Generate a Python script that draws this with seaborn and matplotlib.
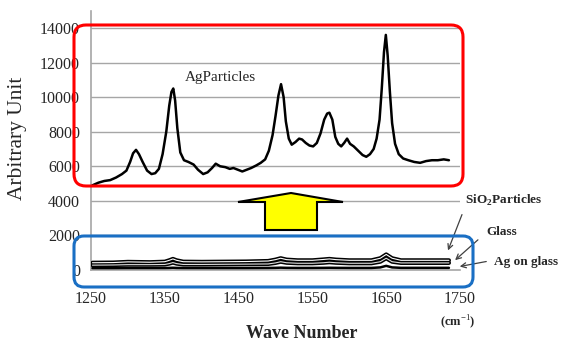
import matplotlib
matplotlib.use("Agg")
import matplotlib.pyplot as plt
from matplotlib.patches import FancyBboxPatch, Polygon
from matplotlib.transforms import IdentityTransform
import seaborn as sns
import pandas as pd

# ---------------- data ----------------
ag_wn = [1252, 1260, 1268, 1276, 1284, 1292, 1298, 1303, 1307, 1311, 1315, 1320, 1326, 1332,
         1337, 1342, 1347, 1352, 1356, 1359, 1361.5, 1364, 1367, 1371, 1376, 1382, 1389, 1395,
         1402, 1408, 1414, 1419, 1425, 1432, 1438, 1443, 1449, 1455, 1461, 1467, 1474, 1480,
         1486, 1491, 1496, 1500, 1504, 1507.5, 1511, 1514, 1518, 1522, 1527, 1532, 1536, 1541,
         1546, 1551, 1556, 1561, 1566, 1570, 1573, 1577, 1581, 1585, 1589, 1593, 1597, 1601,
         1606, 1612, 1618, 1623, 1628, 1633, 1637, 1641, 1644, 1647, 1649.5, 1652, 1655, 1658,
         1662, 1667, 1673, 1680, 1688, 1696, 1704, 1712, 1720, 1728, 1735]
ag_particles = [4900, 5050, 5150, 5200, 5350, 5550, 5750, 6250, 6750, 6950, 6700, 6250, 5750, 5550,
                5600, 5850, 6700, 8000, 9500, 10300, 10500, 9800, 8200, 6800, 6350, 6250, 6100, 5800,
                5550, 5650, 5900, 6150, 6000, 5950, 5850, 5900, 5800, 5700, 5800, 5900, 6050, 6200,
                6400, 6900, 7800, 8900, 10100, 10750, 10000, 8600, 7600, 7250, 7400, 7600, 7550, 7350,
                7200, 7150, 7350, 7900, 8700, 9050, 9100, 8700, 7700, 7300, 7150, 7350, 7600, 7300,
                7150, 6900, 6650, 6550, 6700, 7000, 7600, 8700, 10500, 12600, 13600, 12400, 10300, 8500,
                7300, 6700, 6450, 6350, 6250, 6200, 6300, 6350, 6350, 6400, 6350]

low_wn = [1252, 1280, 1300, 1330, 1350, 1356, 1361, 1366, 1375, 1400, 1430, 1460, 1490, 1500,
          1507, 1515, 1530, 1550, 1565, 1573, 1582, 1600, 1630, 1642, 1650, 1658, 1670, 1700, 1735]
sio2_particles = [420, 430, 470, 450, 480, 560, 640, 560, 480, 470, 480, 490, 520, 600,
                  680, 600, 560, 560, 610, 640, 600, 560, 560, 680, 900, 680, 560, 560, 560]
glass = [280, 290, 310, 310, 320, 370, 430, 370, 320, 320, 330, 340, 350, 410,
         480, 420, 390, 390, 420, 450, 420, 390, 390, 480, 680, 480, 410, 410, 410]
ag_on_glass = [110, 110, 115, 115, 115, 120, 130, 120, 115, 115, 115, 115, 120, 125,
               135, 125, 120, 120, 125, 130, 125, 120, 120, 150, 240, 150, 125, 125, 125]

x_ticks = [1250, 1350, 1450, 1550, 1650, 1750]
y_ticks = [0, 2000, 4000, 6000, 8000, 10000, 12000, 14000]

# ---------------- style ----------------
sns.set_theme(style="white")
plt.rcParams["font.family"] = ["Liberation Serif", "DejaVu Serif"]
plt.rcParams["mathtext.fontset"] = "custom"
plt.rcParams["mathtext.rm"] = "Liberation Serif"
plt.rcParams["mathtext.bf"] = "Liberation Serif:bold"

W, H = 567, 342
fig = plt.figure(figsize=(W / 100, H / 100), dpi=100)
ax = fig.add_axes([91 / W, 1 - 270 / H, (460 - 91) / W, (270 - 10.7) / H])

grid_c = "#a6a6a6"
for yv in y_ticks[1:]:
    ax.axhline(yv, color=grid_c, lw=1.0, zorder=0)

df_ag = pd.DataFrame({"wn": ag_wn, "val": ag_particles})
sns.lineplot(data=df_ag, x="wn", y="val", ax=ax, color="black", lw=1.8, zorder=5)

df_low = pd.DataFrame({"wn": low_wn, "sio2": sio2_particles, "glass": glass, "agg": ag_on_glass})
sns.lineplot(data=df_low, x="wn", y="sio2", ax=ax, color="black", lw=3.0, zorder=4)
sns.lineplot(data=df_low, x="wn", y="sio2", ax=ax, color="white", lw=0.8, zorder=4.1)
sns.lineplot(data=df_low, x="wn", y="glass", ax=ax, color="black", lw=3.0, zorder=4)
sns.lineplot(data=df_low, x="wn", y="glass", ax=ax, color="#dddddd", lw=0.8, zorder=4.1)
sns.lineplot(data=df_low, x="wn", y="agg", ax=ax, color="black", lw=1.8, zorder=4)

ax.set_xlim(1250, 1750)
ax.set_ylim(0, 15000)
ax.set_xticks(x_ticks)
ax.set_xticklabels([str(v) for v in x_ticks], fontsize=11.5)
ax.set_yticks(y_ticks)
ax.set_yticklabels([str(v) for v in y_ticks], fontsize=11.5)
ax.tick_params(axis="x", direction="out", length=5, color=grid_c, width=1, pad=10)
ax.tick_params(axis="y", length=0, pad=8)
ax.set_xlabel("")
ax.set_ylabel("")
for s in ["top", "right"]:
    ax.spines[s].set_visible(False)
for s in ["left", "bottom"]:
    ax.spines[s].set_color(grid_c)
    ax.spines[s].set_linewidth(1.2)

# labels
fig.text(18 / W, 1 - 138 / H, "Arbitrary Unit", rotation=90, ha="center", va="center", fontsize=15.5)
fig.text(302 / W, 1 - 334 / H, "Wave Number", ha="center", va="center", fontsize=13, fontweight="bold")
fig.text(458 / W, 1 - 322 / H, "(cm$^{-1}$)", ha="center", va="center", fontsize=9, fontweight="bold")
fig.text(185 / W, 1 - 77 / H, "AgParticles", ha="left", va="center", fontsize=11)

ident = IdentityTransform()
def P(x, y):
    return (x, H - y)

fig.text(465 / W, 1 - 200 / H, r"SiO$_\mathbf{2}$Particles", ha="left", va="center",
         fontsize=9.5, fontweight="bold")
fig.text(486 / W, 1 - 232 / H, "Glass", ha="left", va="center", fontsize=9.5, fontweight="bold")
fig.text(494 / W, 1 - 262 / H, "Ag on glass", ha="left", va="center", fontsize=9.5, fontweight="bold")

arrows = [((463, 212), (447, 253)), ((480, 238), (453, 262)), ((489, 261), (457, 267))]
for (x0, y0), (x1, y1) in arrows:
    ax.annotate("", xy=P(x1, y1), xycoords=ident, xytext=P(x0, y0), textcoords=ident,
                arrowprops=dict(arrowstyle="->", color="#404040", lw=0.9, mutation_scale=9),
                annotation_clip=False)

# rounded boxes
red = FancyBboxPatch(P(74, 186), 463 - 74, 186 - 25, boxstyle="round,pad=0,rounding_size=12",
                     transform=ident, fill=False, edgecolor="#ff0000", lw=2.2, zorder=10)
blue = FancyBboxPatch(P(74, 287), 473 - 74, 287 - 236, boxstyle="round,pad=0,rounding_size=10",
                      transform=ident, fill=False, edgecolor="#1a6fc4", lw=2.2, zorder=10)
fig.patches.extend([red, blue])

# yellow block arrow
pts = [P(291, 193), P(343, 202), P(317, 202), P(317, 230), P(265, 230), P(265, 202), P(238, 202)]
arrow = Polygon(pts, closed=True, transform=ident, facecolor="#ffff00", edgecolor="black", lw=1.5, zorder=10)
fig.patches.append(arrow)

fig.savefig("out.png", dpi=100)
